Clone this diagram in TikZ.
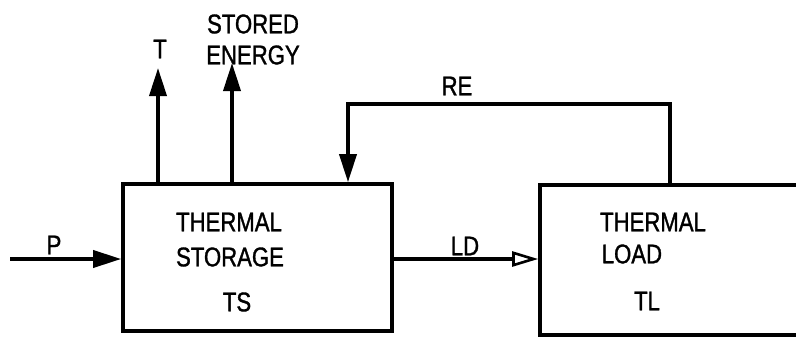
\documentclass[tikz,border=0pt]{standalone}
\usepackage{fontspec}
\setmainfont{Liberation Sans}[FakeStretch=0.82,FakeBold=1.2]
\usetikzlibrary{arrows.meta}
\begin{document}
\begin{tikzpicture}[x=1pt,y=-1pt,line width=3.6pt,
  blk/.style={draw,rectangle,inner sep=0pt},
  lbl/.style={inner sep=0pt,anchor=center,font=\fontsize{27}{29}\selectfont},
  arr/.style={-{Triangle[length=28pt,width=17pt]}},
  arro/.style={-{Triangle[open,length=26pt,width=15pt,line width=2.6pt]}}]
\useasboundingbox (0,0) rectangle (796,338);
\clip (0,0) rectangle (796,338);
\fill[white] (0,0) rectangle (796,338);
% blocks
\node[blk,minimum width=269pt,minimum height=147pt] (TS) at (257.5,257.5) {};
\node[blk,minimum width=290pt,minimum height=150pt] (TL) at (685,260) {};
% texts
\node[lbl] (tsa) at (229,222) {THERMAL};
\node[lbl] (tsb) at (230,257) {STORAGE};
\node[lbl] (tsc) at (237,302) {TS};
\node[lbl] (tla) at (653,222) {THERMAL};
\node[lbl,anchor=west] (tlb) at (600,254) {LOAD};
\node[lbl] (tlc) at (647,301) {TL};
\node[lbl] (lT) at (160,49) {T};
\node[lbl] (lS1) at (253,24) {STORED};
\node[lbl] (lS2) at (253,55) {ENERGY};
\node[lbl] (lRE) at (457,86) {RE};
\node[lbl] (lLD) at (465,246) {LD};
\node[lbl] (lP) at (54,245) {P};
% connectors
\coordinate (tTip) at (158,68);
\coordinate (sTip) at (232,63);
\coordinate (pStart) at (10,259);
\coordinate (reA) at (670,104);
\coordinate (reB) at (348,104);
\coordinate (ldA) at (392,259);
\draw[arr] (TS.north -| tTip) -- (tTip);
\draw[arr] (TS.north -| sTip) -- (sTip);
\draw[arr] (pStart) -- (pStart -| TS.west);
\draw[arr] (TL.north -| reA) -- (reA) -- (reB) -- (TS.north -| reB);
\draw[arro] (ldA -| TS.east) -- (ldA -| TL.west);
\end{tikzpicture}
\end{document}
